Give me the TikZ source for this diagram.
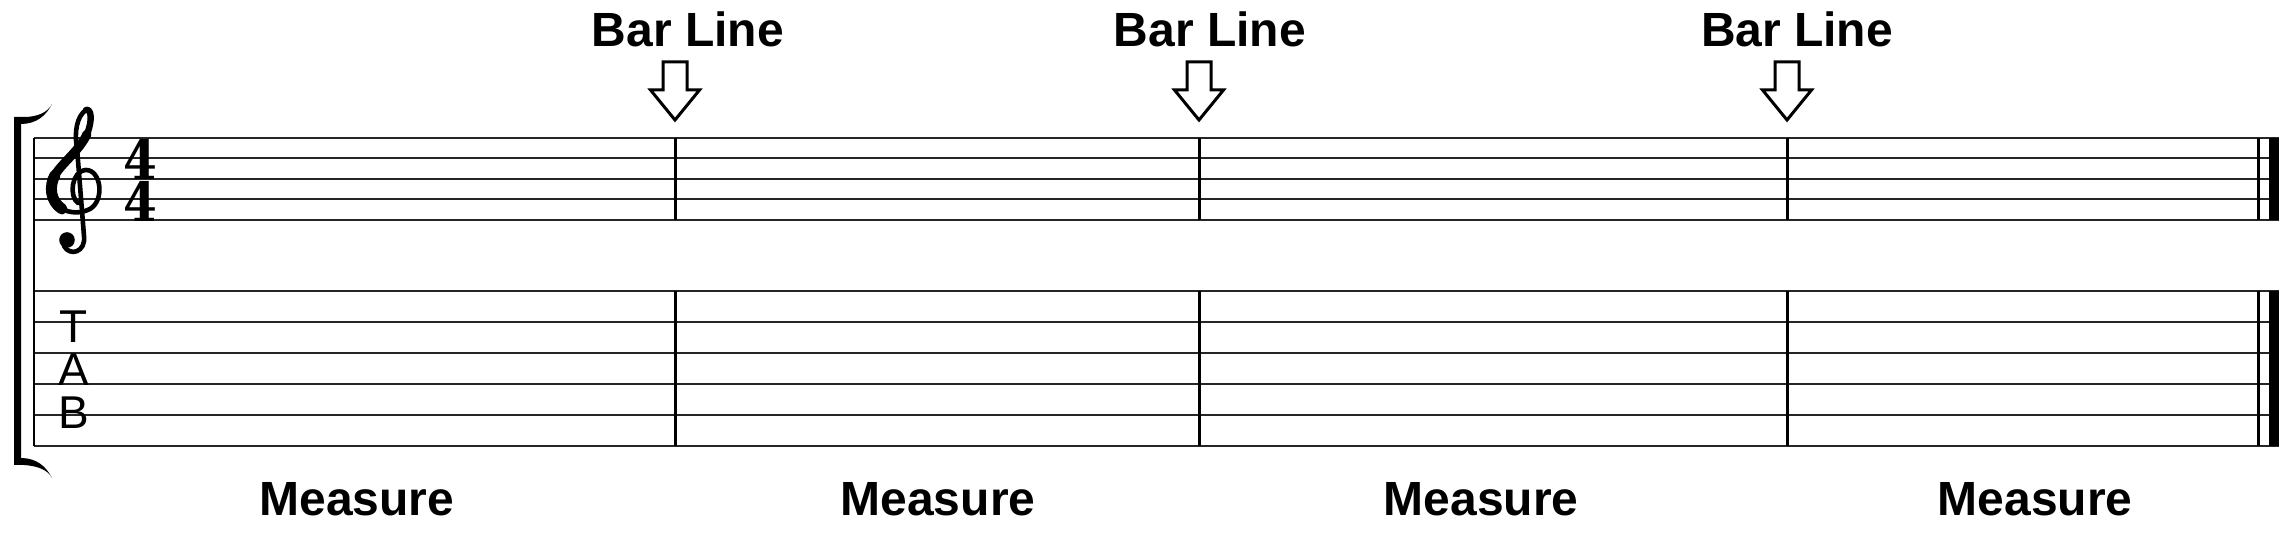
\documentclass[tikz,border=0pt]{standalone}
\usepackage{fontspec}
\newfontfamily\labelfont{Liberation Sans}
\newfontfamily\meterfont{DejaVu Serif}
\usetikzlibrary{positioning}
\tikzset{
  staffline/.style={line width=1pt, black!85},
  barline/.style={line width=1.5pt},
  bararrow/.style={line width=1.5pt, fill=white, line join=miter},
  clefstroke/.style={line cap=round, line join=round},
  barlabel/.style={anchor=base, inner sep=0pt, font=\labelfont\bfseries\fontsize{24}{24}\selectfont},
  tabletters/.style={anchor=north, inner sep=0pt, align=center, font=\labelfont\fontsize{23}{21.5}\selectfont},
  timesig/.style={anchor=north, inner sep=0pt, align=center, xscale=0.9, font=\meterfont\bfseries\fontsize{27}{20.8}\selectfont}
}
\begin{document}
\begin{tikzpicture}[x=0.5pt,y=-0.5pt]
    \useasboundingbox (0,0) rectangle (2294,544);
    \foreach \y in {138,158.5,179,199.5,220,291,322,353,384,415,446}
        \draw[staffline] (34,\y) -- (2279,\y);
    \draw[line width=1pt] (34,138) -- (34,446);
    \fill (14,117) -- (14,465) -- (24,465) .. controls (38,466) and (48,470) .. (52,478)
        .. controls (46,466) and (36,458) .. (21,458) -- (21,124)
        .. controls (36,124) and (46,116) .. (52,104)
        .. controls (48,112) and (38,117) .. (24,117) -- cycle;
    \draw[clefstroke, line width=2.3pt] (78,203) .. controls (69,197) and (71,171) .. (86,170)
        .. controls (101,170) and (105,200) .. (90,209) .. controls (80,214) and (70,213) .. (62,209);
    \draw[clefstroke, line width=5.5pt] (62,209) .. controls (50,201) and (49,186) .. (55,175);
    \draw[clefstroke, line width=4.5pt] (55,175) .. controls (62,163) and (80,150) .. (87,134);
    \draw[clefstroke, line width=3.2pt] (87,134) .. controls (93,120) and (91,108) .. (86,110);
    \draw[clefstroke, line width=2.3pt] (86,110) .. controls (77,116) and (74,132) .. (77,148)
        -- (84,236) .. controls (86,252) and (70,257) .. (64,246);
    \fill (67,240) circle [radius=3.9pt];
    \node[timesig] (meter) at (140,139) {4\\4};
    \node[tabletters] (tab) at (74,310) {T\\A\\B};
    \foreach \b/\t [count=\i] in {675/688,1199/1210,1787/1797}{
        \draw[barline] (\b,138) -- (\b,220) (\b,291) -- (\b,446);
        \draw[bararrow] (\b-12,62) -- (\b+12,62) -- (\b+12,90) -- (\b+24.5,90) -- (\b,120)
            -- (\b-24.5,90) -- (\b-12,90) -- cycle;
        \node[barlabel] (barlabel\i) at (\t,47) {Bar Line};}
    \foreach \s/\e in {138/220,291/446}{
        \draw[line width=1.5pt] (2258.5,\s) -- (2258.5,\e);
        \fill (2269,\s) rectangle (2279,\e);}
    \foreach \m [count=\i] in {357,938,1481,2035}
        \node[barlabel] (measure\i) at (\m,515) {Measure};
\end{tikzpicture}
\end{document}
